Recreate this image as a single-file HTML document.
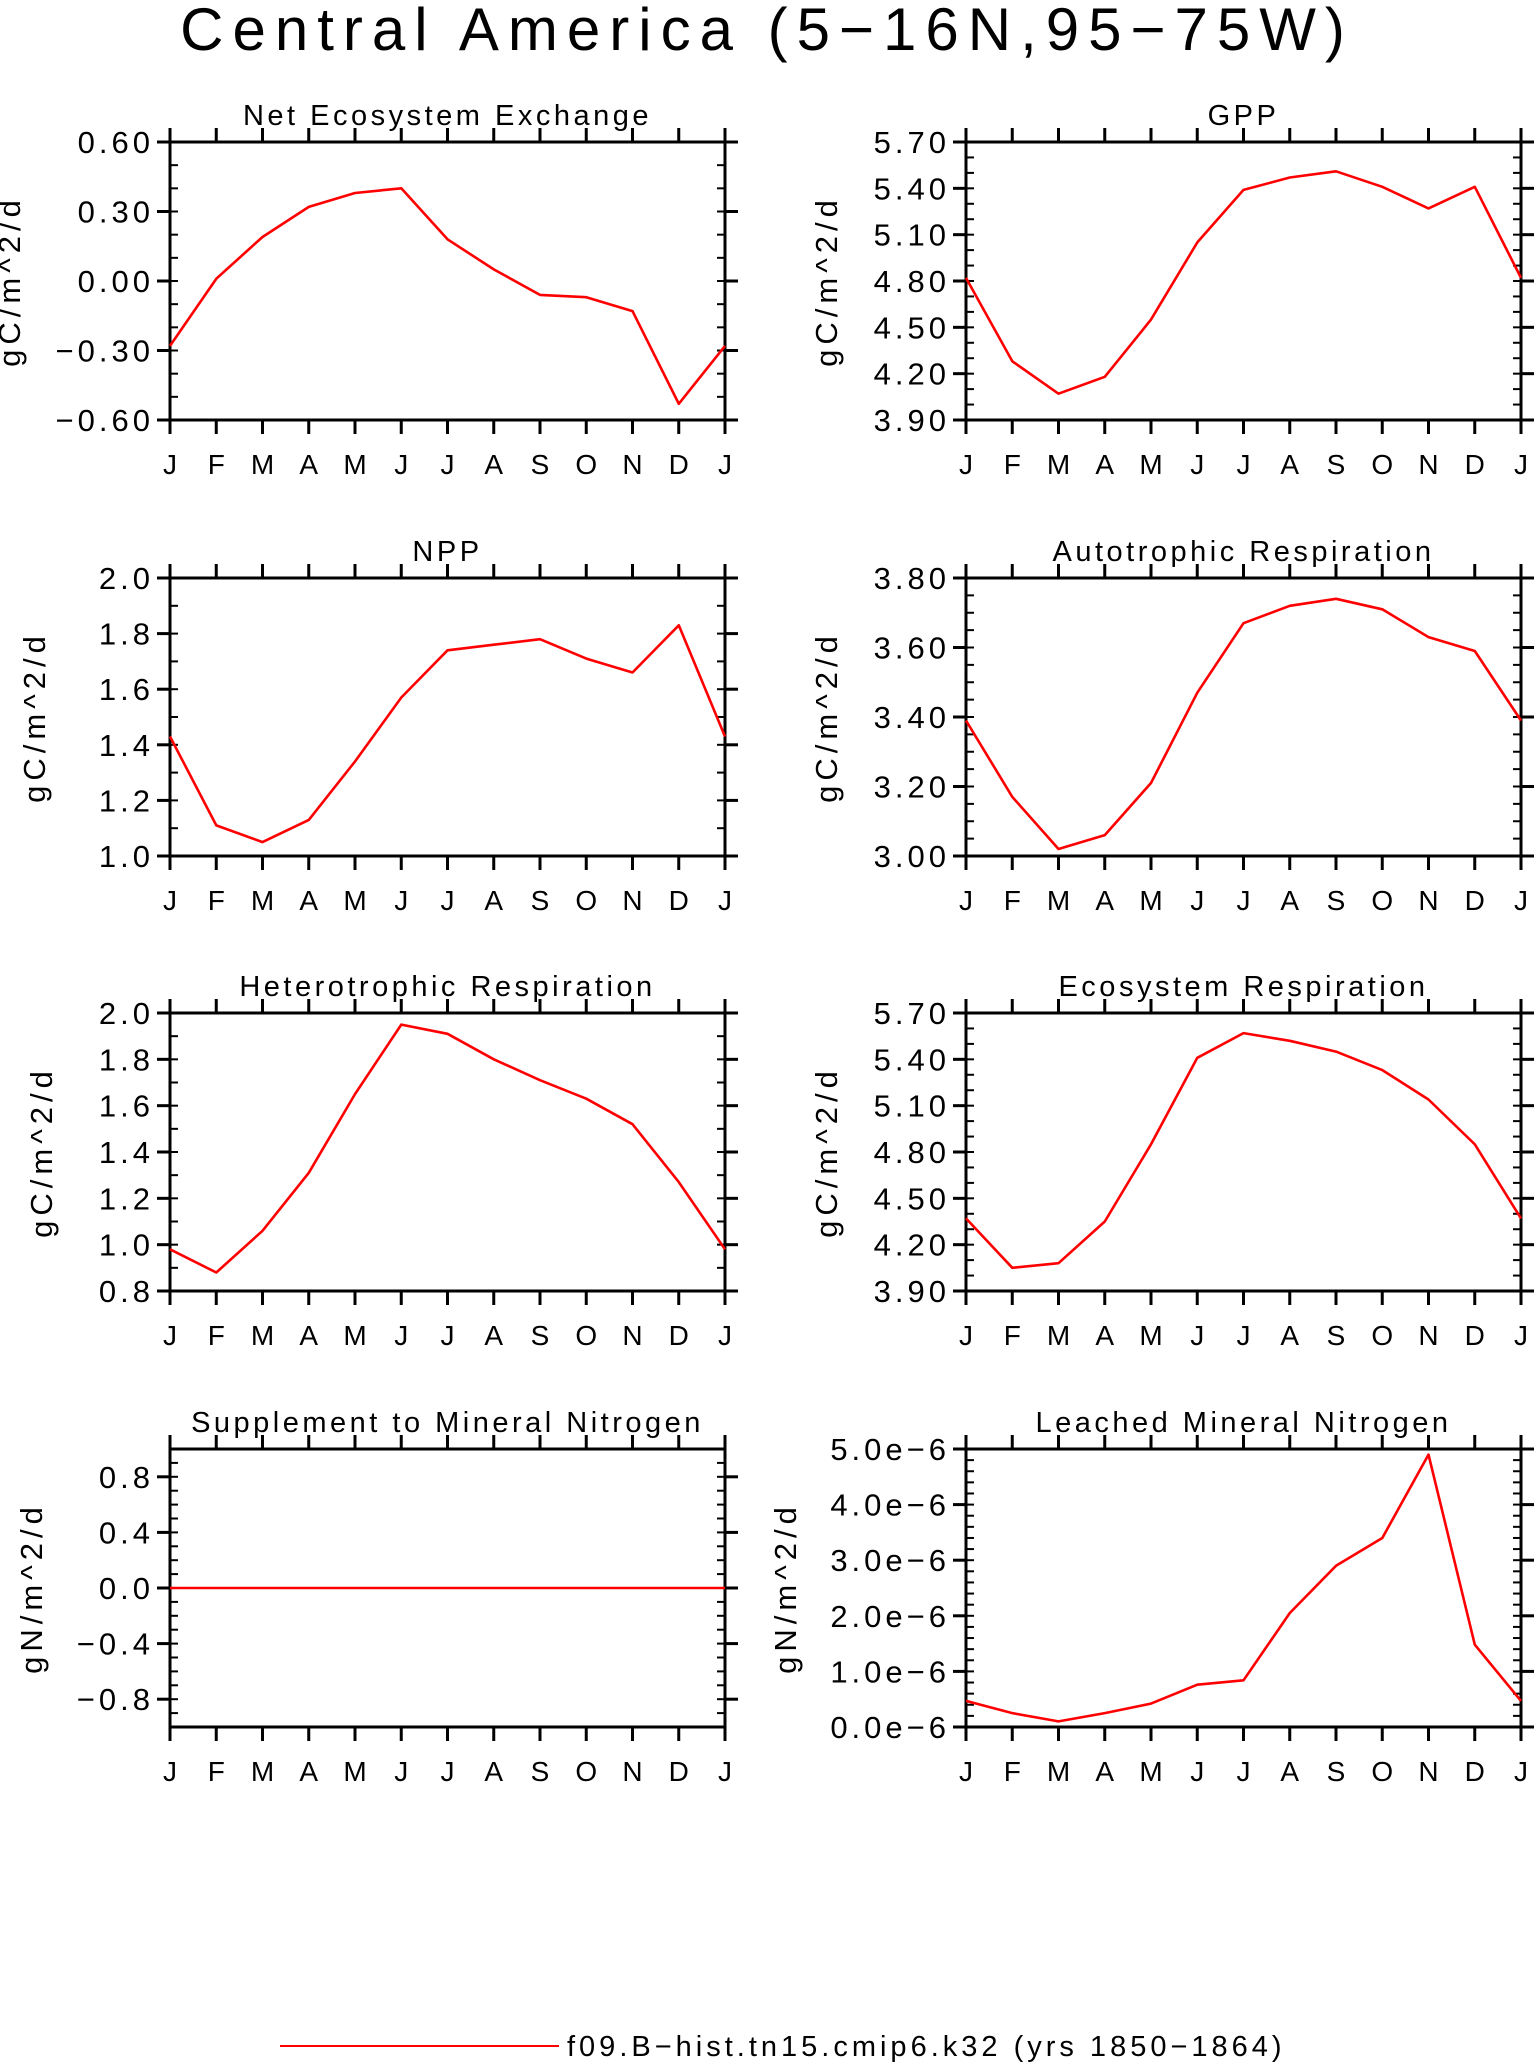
<!DOCTYPE html>
<html><head><meta charset="utf-8"><style>
html,body{margin:0;padding:0;background:#fff;}
svg{display:block;font-family:"Liberation Sans",sans-serif;}
</style></head><body>
<svg id="fig" width="1537" height="2066" viewBox="0 0 1537 2066" xmlns="http://www.w3.org/2000/svg">
<text x="767" y="50" font-size="60" text-anchor="middle" letter-spacing="9">Central America (5−16N,95−75W)</text>
<line x1="280" y1="2046" x2="559" y2="2046" stroke="#ff0000" stroke-width="2"/>
<text x="567" y="2056" font-size="29" letter-spacing="4">f09.B−hist.tn15.cmip6.k32 (yrs 1850−1864)</text>
</svg>
<script>
const months = ["J","F","M","A","M","J","J","A","S","O","N","D","J"];
const neeValues = [-0.28,0.01,0.19,0.32,0.38,0.40,0.18,0.05,-0.06,-0.07,-0.13,-0.53,-0.28];
const gppValues = [4.82,4.28,4.07,4.18,4.55,5.05,5.39,5.47,5.51,5.41,5.27,5.41,4.82];
const nppValues = [1.43,1.11,1.05,1.13,1.34,1.57,1.74,1.76,1.78,1.71,1.66,1.83,1.43];
const arValues = [3.39,3.17,3.02,3.06,3.21,3.47,3.67,3.72,3.74,3.71,3.63,3.59,3.39];
const hrValues = [0.98,0.88,1.06,1.31,1.65,1.95,1.91,1.80,1.71,1.63,1.52,1.27,0.98];
const erValues = [4.37,4.05,4.08,4.35,4.85,5.41,5.57,5.52,5.45,5.33,5.14,4.85,4.37];
const supValues = [0,0,0,0,0,0,0,0,0,0,0,0,0];
const leachValues = [0.47e-6,0.25e-6,0.10e-6,0.25e-6,0.42e-6,0.76e-6,0.84e-6,2.05e-6,2.90e-6,3.40e-6,4.90e-6,1.48e-6,0.47e-6];
const neeTicks = ["0.60","0.30","0.00","−0.30","−0.60"];
const gppTicks = ["5.70","5.40","5.10","4.80","4.50","4.20","3.90"];
const nppTicks = ["2.0","1.8","1.6","1.4","1.2","1.0"];
const arTicks = ["3.80","3.60","3.40","3.20","3.00"];
const hrTicks = ["2.0","1.8","1.6","1.4","1.2","1.0","0.8"];
const erTicks = ["5.70","5.40","5.10","4.80","4.50","4.20","3.90"];
const supTicks = ["0.8","0.4","0.0","−0.4","−0.8"];
const leachTicks = ["5.0e−6","4.0e−6","3.0e−6","2.0e−6","1.0e−6","0.0e−6"];

const NS="http://www.w3.org/2000/svg";
const svg=document.getElementById('fig');
function mk(tag,attrs,parent){const e=document.createElementNS(NS,tag);for(const k in attrs)e.setAttribute(k,attrs[k]);(parent||svg).appendChild(e);return e;}

const panels=[
 {name:"nee",title:"Net Ecosystem Exchange",unit:"gC/m^2/d",vals:neeValues,ticks:neeTicks,min:-0.6,max:0.6,major:0.3,minor:0.1,col:0,row:0,lab:150},
 {name:"gpp",title:"GPP",unit:"gC/m^2/d",vals:gppValues,ticks:gppTicks,min:3.9,max:5.7,major:0.3,minor:0.1,col:1,row:0,lab:129},
 {name:"npp",title:"NPP",unit:"gC/m^2/d",vals:nppValues,ticks:nppTicks,min:1.0,max:2.0,major:0.2,minor:0.1,col:0,row:1,lab:125},
 {name:"autotrophic-resp",title:"Autotrophic Respiration",unit:"gC/m^2/d",vals:arValues,ticks:arTicks,min:3.0,max:3.8,major:0.2,minor:0.05,col:1,row:1,lab:129},
 {name:"heterotrophic-resp",title:"Heterotrophic Respiration",unit:"gC/m^2/d",vals:hrValues,ticks:hrTicks,min:0.8,max:2.0,major:0.2,minor:0.1,col:0,row:2,lab:118},
 {name:"ecosystem-resp",title:"Ecosystem Respiration",unit:"gC/m^2/d",vals:erValues,ticks:erTicks,min:3.9,max:5.7,major:0.3,minor:0.1,col:1,row:2,lab:129},
 {name:"supplement-n",title:"Supplement to Mineral Nitrogen",unit:"gN/m^2/d",vals:supValues,ticks:supTicks,min:-1.0,max:1.0,major:0.4,minor:0.1,col:0,row:3,lab:128,first:0.8},
 {name:"leached-n",title:"Leached Mineral Nitrogen",unit:"gN/m^2/d",vals:leachValues,ticks:leachTicks,min:0,max:5e-6,major:1e-6,minor:0.2e-6,col:1,row:3,lab:170}
];
const colX=[170,966], W=555, rowY=[142,578,1013,1449], H=278;

panels.forEach(p=>{
  const L=colX[p.col], T=rowY[p.row], R=L+W, B=T+H;
  const g=mk('g',{});
  
  
  const x=i=>L+i*W/12;
  const y=v=>B-(v-p.min)/(p.max-p.min)*H;
  const t=mk('text',{x:(L+R)/2,y:T-17,'font-size':29,'text-anchor':'middle','letter-spacing':'3.5'},g);
  t.textContent=p.title;
  
  
  const yl=mk('text',{x:0,y:0,'font-size':31,'text-anchor':'middle',transform:`translate(${L-p.lab},${(T+B)/2}) rotate(-90)`,'letter-spacing':'5'},g);
  yl.textContent=p.unit;
  
  
  const nMin=Math.round((p.max-p.min)/p.minor);
  for(let k=0;k<=nMin;k++){
    const yy=B-k*H/nMin;
    mk('line',{x1:L,y1:yy,x2:L+8,y2:yy,stroke:'#000','stroke-width':2},g);
    mk('line',{x1:R,y1:yy,x2:R-8,y2:yy,stroke:'#000','stroke-width':2},g);
  }
  const first=p.first!==undefined?p.first:p.max;
  p.ticks.forEach((lab,k)=>{
    const v=first-k*p.major; const yy=y(v);
    mk('line',{x1:L-13,y1:yy,x2:L,y2:yy,stroke:'#000','stroke-width':3},g);
    mk('line',{x1:R,y1:yy,x2:R+13,y2:yy,stroke:'#000','stroke-width':3},g);
    const tl=mk('text',{x:L-20+4,y:yy+11,'font-size':31,'text-anchor':'end','letter-spacing':'4'},g);
    tl.textContent=lab;
    
    
  });
  months.forEach((m,i)=>{
    const xx=x(i);
    mk('line',{x1:xx,y1:B,x2:xx,y2:B+14,stroke:'#000','stroke-width':3},g);
    mk('line',{x1:xx,y1:T,x2:xx,y2:T-14,stroke:'#000','stroke-width':3},g);
    const ml=mk('text',{x:xx,y:B+54,'font-size':28,'text-anchor':'middle'},g);
    ml.textContent=m;
    
    
  });
  const fr=mk('rect',{x:L,y:T,width:W,height:H,fill:'none',stroke:'#000','stroke-width':3},g);
  
  
  const pts=p.vals.map((v,i)=>x(i).toFixed(1)+','+y(v).toFixed(1)).join(' ');
  const ln=mk('polyline',{points:pts,fill:'none',stroke:'#ff0000','stroke-width':2.6,'stroke-linejoin':'round'},g);
  
  
});
</script>
</body></html>
